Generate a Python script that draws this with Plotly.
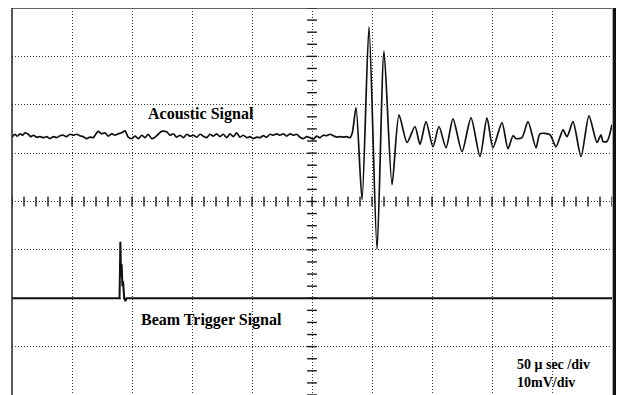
import numpy as np
import plotly.graph_objects as go

# Acoustic signal: time (µs, 50 µs/div) and voltage (mV, 10 mV/div)
acoustic_t = [0, 2.5, 4.4, 6.7, 8.9, 10.8, 13.6, 15.6, 17.8, 20.6, 23.3, 26.1, 28.9, 31.7, 34.4, 37.2,
              40, 42.8, 45.6, 48.3, 51.1, 53.9, 56.7, 59.4, 62.2, 65, 67.8, 70, 71.9, 74.7, 77.5, 80.3,
              83.1, 85.8, 88.6, 91.4, 94.2, 96.9, 99.7, 102.5, 105.3, 108.1, 110.8, 113.6, 116.4,
              119.2, 121.9, 124.7, 128.9, 131.7, 134.4, 137.2, 140, 142.8, 145.6, 148.3, 151.1, 153.9,
              156.7, 159.4, 162.2, 165, 167.8, 170.6, 173.3, 176.1, 178.9, 181.7, 184.4, 187.2, 190,
              192.8, 195.6, 198.3, 201.1, 203.9, 206.7, 209.4, 212.2, 215, 217.8, 220.6, 223.3, 226.1,
              228.9, 231.7, 234.4, 237.2, 240, 242.8, 245.6, 248.3, 251.1, 253.9, 256.7, 259.4, 262.2,
              265, 267.8, 270.6, 273.3, 276.1, 278.9, 281.7, 283.6,
              286.7, 291.7, 297.5, 304.2, 310, 316.7, 322.5, 329.2, 335.8, 340, 345, 350.8, 355.8,
              361.7, 367.5, 375, 382.5, 390, 395.8, 400.8, 408.3, 413.3, 417.5, 420, 425, 430, 436.7,
              440, 448.3, 453.3, 459.2, 462.5, 467.5, 474.2, 480.8, 487.5, 490.8, 492.5, 495.8, 500]
acoustic_v = [13.3, 13.9, 13.5, 14.0, 13.7, 14.2, 13.9, 13.4, 13.7, 13.3, 13.4, 13.2, 13.4, 13.0, 13.4, 13.2,
              13.6, 13.7, 13.4, 13.9, 13.7, 13.9, 13.6, 13.4, 13.0, 13.3, 13.2, 14.0, 14.5, 14.0, 14.2, 13.5,
              14.0, 13.7, 14.0, 14.2, 14.6, 13.3, 13.0, 13.5, 13.0, 13.7, 13.2, 13.9, 13.0,
              13.3, 13.9, 14.5, 14.4, 13.7, 14.0, 13.3, 13.7, 13.2, 13.9, 13.5, 13.7, 13.3,
              13.9, 13.5, 13.2, 13.9, 13.5, 14.0, 13.4, 13.9, 13.2, 14.0, 13.4, 14.2, 13.3,
              13.7, 13.2, 13.4, 13.0, 13.3, 13.2, 13.6, 13.3, 13.9, 13.7, 14.0, 13.7, 14.0,
              13.5, 14.0, 13.7, 13.9, 13.3, 13.0, 13.4, 13.2, 12.9, 13.5, 13.2, 13.7, 13.6,
              13.9, 13.6, 13.3, 13.4, 13.3, 13.4, 13.2, 14.2,
              19.4, 0.4, 36.1, -9.9, 31.1, 3.5, 17.9, 12.2, 15.5, 11.8, 16.5, 11.3, 15.5,
              11.1, 17.1, 10.3, 17.3, 9.3, 17.3, 11.1, 16.3, 10.9, 13.6, 13.0, 13.2, 16.5, 11.1,
              14.0, 13.8, 11.3, 14.8, 13.4, 16.5, 9.3, 17.7, 12.2, 13.8, 12.4, 12.4, 15.9]

# Beam trigger signal
trigger_t = [0, 89.6, 90.3, 90.9, 91.4, 92.0, 92.6, 93.5, 94.5, 95.5, 500]
trigger_v = [-20, -20, -8.3, -15.5, -13.0, -17.5, -16.5, -20, -20.6, -20, -20]

labels = {
    "acoustic": "Acoustic Signal",
    "trigger": "Beam Trigger Signal",
    "timebase": "50 \u03bc sec /div",
    "vscale": "10mV/div",
}

fig = go.Figure()

# centre-axis tick crosses (graticule decoration)
vt = np.arange(-40, 40.01, 2.5)
ht = np.arange(0, 500.01, 10)
fig.add_trace(go.Scatter(x=[250] * len(vt), y=vt, mode="markers",
                         marker=dict(symbol="line-ew", size=7, line=dict(width=1.4, color="#1a1a1a")),
                         hoverinfo="skip", showlegend=False))
fig.add_trace(go.Scatter(x=ht, y=[0] * len(ht), mode="markers",
                         marker=dict(symbol="line-ns", size=7, line=dict(width=1.4, color="#1a1a1a")),
                         hoverinfo="skip", showlegend=False))

fig.add_trace(go.Scatter(x=trigger_t, y=trigger_v, mode="lines",
                         line=dict(color="#111", width=2), showlegend=False))
fig.add_trace(go.Scatter(x=acoustic_t, y=acoustic_v, mode="lines",
                         line=dict(color="#111", width=1.7, shape="spline", smoothing=0.7),
                         showlegend=False))

font_b = dict(family="Liberation Serif, Times New Roman, serif", size=16, color="black")
fig.add_annotation(x=157.9, y=18.0, text="<b>" + labels["acoustic"] + "</b>", showarrow=False, font=font_b)
fig.add_annotation(x=166.0, y=-24.4, text="<b>" + labels["trigger"] + "</b>", showarrow=False, font=font_b)
font_s = dict(family="Liberation Serif, Times New Roman, serif", size=14, color="black")
fig.add_annotation(x=419.2, y=-33.7, text="<b>" + labels["timebase"] + "</b>", showarrow=False,
                   xanchor="left", font=font_s)
fig.add_annotation(x=419.2, y=-37.4, text="<b>" + labels["vscale"] + "</b>", showarrow=False,
                   xanchor="left", font=font_s)

# borders
fig.add_shape(type="line", xref="paper", yref="paper", x0=0, x1=0, y0=0, y1=1,
              line=dict(color="#222", width=1.5))
fig.add_shape(type="line", xref="paper", yref="paper", x0=0, x1=1, y0=1, y1=1,
              line=dict(color="#333", width=1.5))
fig.add_shape(type="line", xref="paper", yref="paper", x0=1.004, x1=1.004, y0=0, y1=1,
              line=dict(color="#111", width=3.5))

grid = dict(showgrid=True, gridcolor="#333", gridwidth=1, griddash="1px,2px",
            zeroline=False, showticklabels=False, ticks="", showline=False, fixedrange=True)
fig.update_xaxes(range=[0, 500], dtick=50, tick0=0, **grid)
fig.update_yaxes(range=[-40, 40], dtick=10, tick0=0, **grid)

# the page body adds an 8 px offset; margins compensate so the graticule
# lands at x 12..612, y 8..395 in the window
fig.update_layout(width=624, height=395, margin=dict(l=4, r=20, t=0, b=8),
                  plot_bgcolor="white", paper_bgcolor="white", showlegend=False)

fig.write_html("out.html")
